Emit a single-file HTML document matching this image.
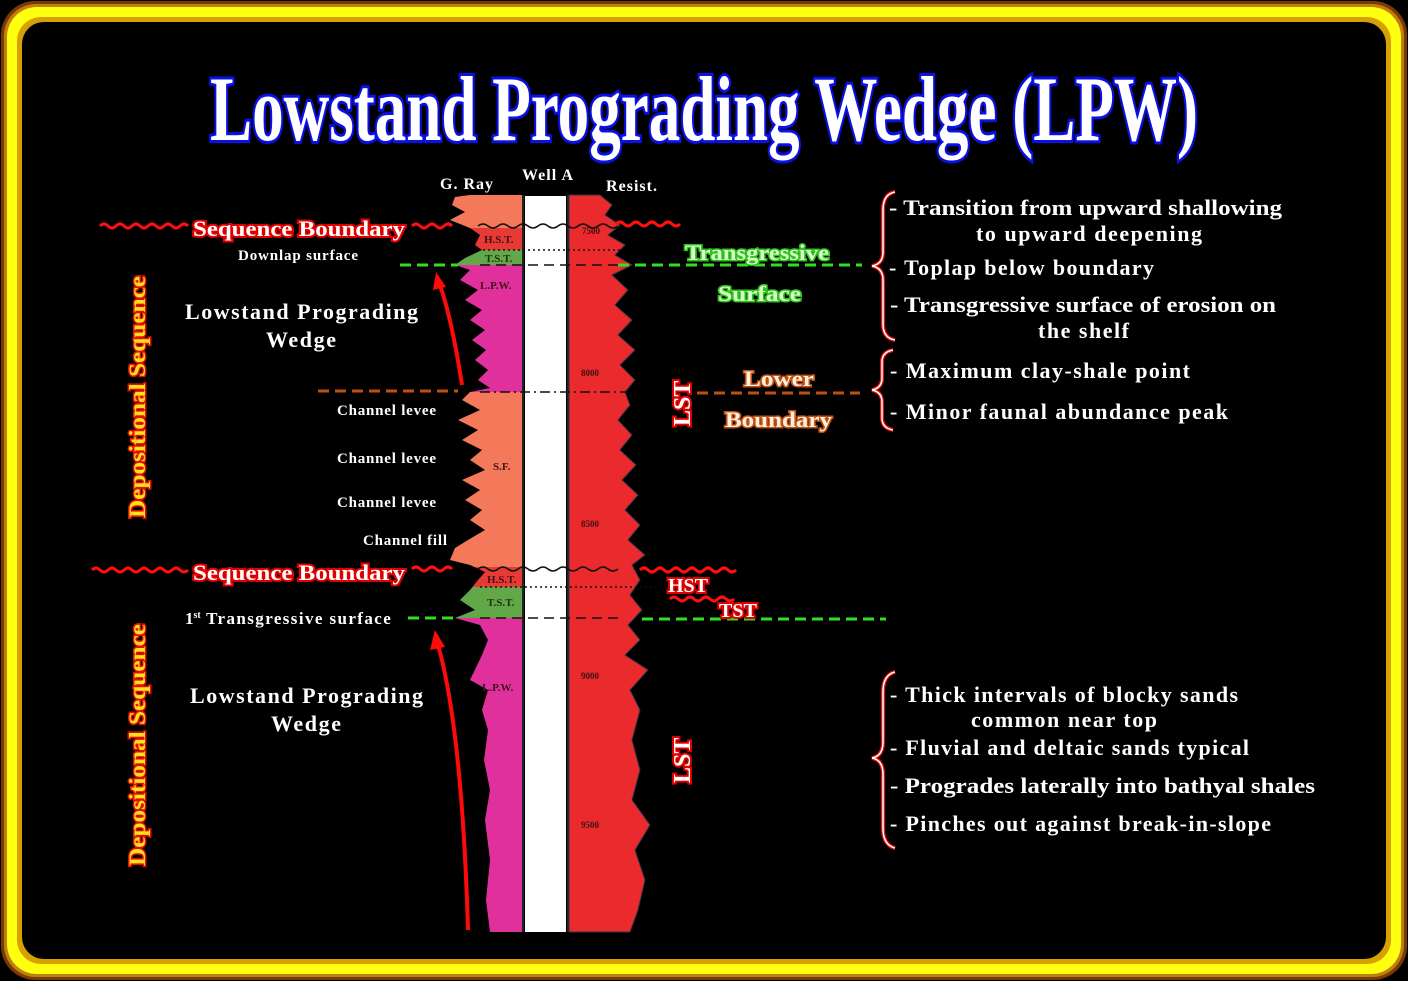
<!DOCTYPE html>
<html><head><meta charset="utf-8"><style>
html,body{margin:0;padding:0;background:#000;}
svg{display:block;}
text{font-family:"Liberation Serif",serif;font-weight:bold;}
</style></head><body>
<svg width="1408" height="981" viewBox="0 0 1408 981" xmlns="http://www.w3.org/2000/svg">
<defs>
<clipPath id="gr"><polygon points="455,197 470,195 522,195 522,932 490,932 486,900 490,860 485,820 490,790 484,760 488,730 482,710 488,690 470,680 482,655 488,640 480,625 455,618 475,610 460,600 470,590 478,580 485,572 470,565 450,560 455,548 468,540 485,530 470,520 482,510 465,500 480,490 462,480 485,470 470,460 482,450 462,440 478,430 458,420 480,410 462,400 470,392 490,388 478,380 488,370 475,360 486,350 472,340 485,330 470,320 482,310 465,300 478,290 460,280 470,270 455,265 465,258 482,250 475,245 480,235 470,228 450,220 465,212 452,205"/></clipPath>
</defs>
<rect width="1408" height="981" fill="#000"/>
<rect x="1" y="1" width="1406" height="979" rx="34" fill="#7a3a06"/>
<rect x="4" y="4" width="1400" height="973" rx="32" fill="#c08010"/>
<rect x="7" y="7" width="1394" height="967" rx="30" fill="#ffff10"/>
<rect x="17" y="17" width="1374" height="947" rx="24" fill="#d8a000"/>
<rect x="22" y="22" width="1364" height="937" rx="22" fill="#000"/>

<text x="210" y="140" font-size="92" textLength="988" lengthAdjust="spacingAndGlyphs" fill="#fff" stroke="#0a10e8" stroke-width="6" paint-order="stroke">Lowstand Prograding Wedge (LPW)</text>

<g clip-path="url(#gr)">
<rect x="440" y="190" width="90" height="38" fill="#f4785a"/>
<rect x="440" y="228" width="90" height="22" fill="#e83a34"/>
<rect x="440" y="250" width="90" height="15" fill="#62a848"/>
<rect x="440" y="265" width="90" height="127" fill="#e0309c"/>
<rect x="440" y="392" width="90" height="175" fill="#f4785a"/>
<rect x="440" y="567" width="90" height="20" fill="#e83a34"/>
<rect x="440" y="587" width="90" height="31" fill="#62a848"/>
<rect x="440" y="618" width="90" height="320" fill="#e0309c"/>
</g>
<line x1="523" y1="195" x2="523" y2="932" stroke="#222" stroke-width="2"/>
<rect x="525" y="196" width="41" height="736" fill="#fff"/>
<line x1="568" y1="195" x2="568" y2="932" stroke="#222" stroke-width="2"/>
<polygon fill="#ea2a2c" stroke="#334" stroke-width="1" points="569,195 600,195 612,205 605,215 620,225 608,235 625,245 615,255 632,265 612,275 628,290 615,305 632,320 618,335 635,350 620,365 635,380 625,392 630,405 618,420 632,435 620,450 636,465 622,480 638,495 625,510 640,525 628,540 645,555 632,565 640,580 630,595 642,610 628,625 640,640 625,655 648,670 630,690 640,710 632,740 640,770 632,800 650,825 635,850 645,880 638,910 630,932 569,932"/>

<g font-size="11" fill="#401020">
<text x="484" y="243">H.S.T.</text><text x="485" y="262" fill="#203010">T.S.T.</text>
<text x="480" y="289">L.P.W.</text><text x="493" y="470">S.F.</text>
<text x="487" y="583">H.S.T.</text><text x="487" y="606" fill="#203010">T.S.T.</text>
<text x="482" y="691">L.P.W.</text>
</g>
<g font-size="9" fill="#401010">
<text x="582" y="234">7500</text><text x="581" y="376">8000</text><text x="581" y="527">8500</text><text x="581" y="679">9000</text><text x="581" y="828">9500</text>
</g>
<g stroke="#111" stroke-width="1.5" fill="none">
<path d="M478,226 q5,-4 10,0 t10,0 t10,0 t10,0 t10,0 t10,0 t10,0 t10,0 t10,0 t10,0 t10,0 t10,0 t10,0 t10,0"/>
<line x1="478" y1="250" x2="620" y2="250" stroke-dasharray="2,3"/>
<line x1="480" y1="265" x2="620" y2="265" stroke-dasharray="10,6"/>
<line x1="480" y1="392" x2="628" y2="392" stroke-dasharray="10,4,2,4"/>
<path d="M478,569 q5,-4 10,0 t10,0 t10,0 t10,0 t10,0 t10,0 t10,0 t10,0 t10,0 t10,0 t10,0 t10,0 t10,0 t10,0"/>
<line x1="480" y1="587" x2="660" y2="587" stroke-dasharray="2,3"/>
<line x1="480" y1="618" x2="620" y2="618" stroke-dasharray="10,6"/>
</g>
<g font-size="16" fill="#fff">
<text x="440" y="189" textLength="53">G. Ray</text><text x="522" y="180" textLength="51">Well A</text><text x="606" y="191" textLength="51">Resist.</text>
</g>

<g stroke="#ff1010" stroke-width="3" fill="none">
<path d="M100,226 q4,-4 8,0 t8,0 t8,0 t8,0 t8,0 t8,0 t8,0 t8,0 t8,0 t8,0 t8,0"/>
<path d="M412,226 q4,-4 8,0 t8,0 t8,0 t8,0 t8,0"/>
<path d="M616,224 q4,-4 8,0 t8,0 t8,0 t8,0 t8,0 t8,0 t8,0 t8,0"/>
<path d="M92,570 q4,-4 8,0 t8,0 t8,0 t8,0 t8,0 t8,0 t8,0 t8,0 t8,0 t8,0 t8,0 t8,0"/>
<path d="M412,569 q4,-4 8,0 t8,0 t8,0 t8,0 t8,0"/>
<path d="M640,570 q4,-4 8,0 t8,0 t8,0 t8,0 t8,0 t8,0 t8,0 t8,0 t8,0 t8,0 t8,0 t8,0"/>
<path d="M670,599 q4,-4 8,0 t8,0 t8,0 t8,0 t8,0 t8,0 t8,0 t8,0"/>
</g>
<g stroke-width="3" fill="none" stroke-dasharray="11,6">
<line x1="400" y1="265" x2="458" y2="265" stroke="#30e020"/>
<line x1="618" y1="265" x2="862" y2="265" stroke="#30e020"/>
<line x1="408" y1="618" x2="456" y2="618" stroke="#30e020"/>
<line x1="642" y1="619" x2="886" y2="619" stroke="#30e020"/>
<line x1="318" y1="391" x2="458" y2="391" stroke="#c05010"/>
<line x1="697" y1="393" x2="860" y2="393" stroke="#c05010"/>
</g>
<g fill="none" stroke="#ff0a0a" stroke-width="4">
<path d="M462,385 Q452,320 440,285"/>
<path d="M468,930 Q462,730 438,645"/>
</g>
<polygon points="436,272 433,290 446,287" fill="#ff0a0a"/>
<polygon points="435,630 430,650 445,647" fill="#ff0a0a"/>

<g font-size="22" fill="#fff" stroke="#e00000" stroke-width="4" paint-order="stroke">
<text x="193" y="236" textLength="212" lengthAdjust="spacingAndGlyphs">Sequence Boundary</text>
<text x="193" y="580" textLength="212" lengthAdjust="spacingAndGlyphs">Sequence Boundary</text>
<text x="668" y="592" font-size="20">HST</text>
<text x="719" y="617" font-size="20">TST</text>
<text transform="translate(690,426) rotate(-90)" font-size="24">LST</text>
<text transform="translate(690,783) rotate(-90)" font-size="24">LST</text>
</g>
<g font-size="22" fill="#d8ffc8" stroke="#30c020" stroke-width="3" paint-order="stroke">
<text x="685" y="260" textLength="144" lengthAdjust="spacingAndGlyphs">Transgressive</text><text x="718" y="301" textLength="83" lengthAdjust="spacingAndGlyphs">Surface</text>
</g>
<g font-size="22" fill="#fff0e0" stroke="#c05010" stroke-width="3" paint-order="stroke">
<text x="744" y="386" textLength="70" lengthAdjust="spacingAndGlyphs">Lower</text><text x="725" y="427" textLength="107" lengthAdjust="spacingAndGlyphs">Boundary</text>
</g>
<g font-size="23" fill="#ffe020" stroke="#e01000" stroke-width="3" paint-order="stroke">
<text transform="translate(145,518) rotate(-90)" textLength="242" lengthAdjust="spacingAndGlyphs">Depositional Sequence</text>
<text transform="translate(145,866) rotate(-90)" textLength="242" lengthAdjust="spacingAndGlyphs">Depositional Sequence</text>
</g>

<g fill="#fff">
<text x="238" y="260" font-size="15" textLength="120">Downlap surface</text>
<text x="185" y="319" font-size="22" textLength="233">Lowstand Prograding</text>
<text x="266" y="347" font-size="22" textLength="70">Wedge</text>
<text x="337" y="415" font-size="15" textLength="99">Channel levee</text>
<text x="337" y="463" font-size="15" textLength="99">Channel levee</text>
<text x="337" y="507" font-size="15" textLength="99">Channel levee</text>
<text x="363" y="545" font-size="15" textLength="84">Channel fill</text>
<text x="185" y="624" font-size="17">1<tspan font-size="10" dy="-6">st</tspan><tspan dy="6" textLength="190"> Transgressive surface</tspan></text>
<text x="190" y="703" font-size="22" textLength="233">Lowstand Prograding</text>
<text x="271" y="731" font-size="22" textLength="70">Wedge</text>
</g>
<g fill="#fff" font-size="22">
<text x="889" y="215" textLength="393" lengthAdjust="spacingAndGlyphs">- Transition from upward shallowing</text>
<text x="976" y="241" textLength="226">to upward deepening</text>
<text x="889" y="275" textLength="265">- Toplap below boundary</text>
<text x="890" y="312" textLength="386" lengthAdjust="spacingAndGlyphs">- Transgressive surface of erosion on</text>
<text x="1038" y="338" textLength="91">the shelf</text>
<text x="890" y="378" textLength="300">- Maximum clay-shale point</text>
<text x="890" y="419" textLength="338">- Minor faunal abundance peak</text>
<text x="890" y="702" textLength="348">- Thick intervals of blocky sands</text>
<text x="971" y="727" textLength="186">common near top</text>
<text x="890" y="755" textLength="359">- Fluvial and deltaic sands typical</text>
<text x="890" y="793" textLength="425" lengthAdjust="spacingAndGlyphs">- Progrades laterally into bathyal shales</text>
<text x="890" y="831" textLength="381">- Pinches out against break-in-slope</text>
</g>
<g fill="none" stroke="#e01010" stroke-width="4">
<path d="M895,192 Q883,194 883,210 L883,252 Q883,264 872,266 Q883,268 883,280 L883,324 Q883,338 895,340"/>
<path d="M893,350 Q882,352 882,362 L882,378 Q882,388 872,390 Q882,392 882,402 L882,418 Q882,428 893,430"/>
<path d="M895,672 Q883,675 883,692 L883,742 Q883,756 872,758 Q883,760 883,774 L883,828 Q883,845 895,848"/>
</g>
<g fill="none" stroke="#fff" stroke-width="1.5">
<path d="M895,192 Q883,194 883,210 L883,252 Q883,264 872,266 Q883,268 883,280 L883,324 Q883,338 895,340"/>
<path d="M893,350 Q882,352 882,362 L882,378 Q882,388 872,390 Q882,392 882,402 L882,418 Q882,428 893,430"/>
<path d="M895,672 Q883,675 883,692 L883,742 Q883,756 872,758 Q883,760 883,774 L883,828 Q883,845 895,848"/>
</g>
</svg>
</body></html>
